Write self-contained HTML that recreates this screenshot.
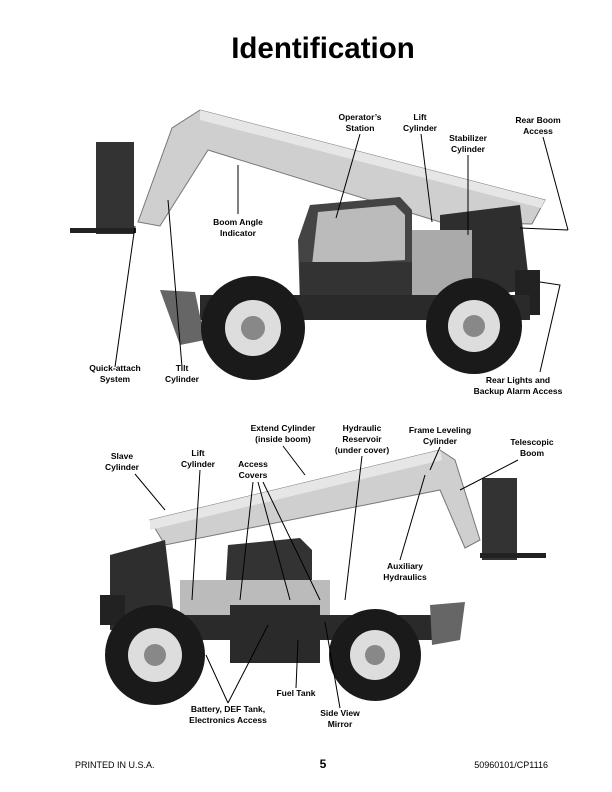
<!DOCTYPE html>
<html><head><meta charset="utf-8"><style>
html,body{margin:0;padding:0;background:#fff;}
svg{display:block}
text{font-family:"Liberation Sans",Arial,sans-serif;}
.l{font-size:8.5px;font-weight:bold;text-anchor:middle;fill:#000}
.ln{stroke:#000;stroke-width:1;fill:none}
</style></head><body>
<svg width="612" height="792" viewBox="0 0 612 792" xmlns="http://www.w3.org/2000/svg">
<text x="323" y="58" font-size="29.5" font-weight="bold" text-anchor="middle">Identification</text>

<!-- TOP MACHINE -->
<g>
 <rect x="96" y="142" width="38" height="92" fill="#333"/>
 <rect x="70" y="228" width="66" height="5" fill="#222"/>
 <!-- boom -->
 <polygon points="138,222 172,128 200,110 545,200 532,224 440,222 208,150 160,226" fill="#cfcfcf" stroke="#777"/>
 <polygon points="200,110 545,200 541,208 200,120" fill="#e6e6e6"/>
 <polygon points="440,215 520,205 530,290 440,300" fill="#2e2e2e"/>
 <rect x="515" y="270" width="25" height="45" fill="#222"/>
 <polygon points="310,205 400,197 412,210 412,300 300,305 298,240" fill="#444"/>
 <polygon points="318,212 395,205 405,215 405,260 312,265" fill="#bbb"/>
 <rect x="300" y="262" width="115" height="50" fill="#333"/>
 <rect x="412" y="230" width="60" height="70" fill="#aaa"/>
 <rect x="200" y="295" width="330" height="25" fill="#2a2a2a"/>
 <polygon points="160,290 195,292 205,340 180,345" fill="#666"/>
 <circle cx="253" cy="328" r="52" fill="#1a1a1a"/>
 <circle cx="253" cy="328" r="28" fill="#ddd"/>
 <circle cx="253" cy="328" r="12" fill="#888"/>
 <circle cx="474" cy="326" r="48" fill="#1a1a1a"/>
 <circle cx="474" cy="326" r="26" fill="#ddd"/>
 <circle cx="474" cy="326" r="11" fill="#888"/>
</g>

<text class="l" x="360" y="120">Operator’s</text><text class="l" x="360" y="131">Station</text>
<text class="l" x="420" y="120">Lift</text><text class="l" x="420" y="131">Cylinder</text>
<text class="l" x="468" y="141">Stabilizer</text><text class="l" x="468" y="152">Cylinder</text>
<text class="l" x="538" y="123">Rear Boom</text><text class="l" x="538" y="134">Access</text>
<text class="l" x="238" y="225">Boom Angle</text><text class="l" x="238" y="236">Indicator</text>
<text class="l" x="115" y="371">Quick-attach</text><text class="l" x="115" y="382">System</text>
<text class="l" x="182" y="371">Tilt</text><text class="l" x="182" y="382">Cylinder</text>
<text class="l" x="518" y="383">Rear Lights and</text><text class="l" x="518" y="394">Backup Alarm Access</text>
<path class="ln" d="M360 134 L336 218 M421 134 L432 222 M468 155 L468 235 M543 137 L568 230 M520 228 L568 230 M238 214 L238 165 M115 367 L135 226 M182 367 L168 200 M540 372 L560 285 L540 282"/>

<!-- BOTTOM MACHINE -->
<g>
 <rect x="482" y="478" width="35" height="82" fill="#333"/>
 <rect x="480" y="553" width="66" height="5" fill="#222"/>
 <polygon points="150,520 440,450 455,460 480,540 465,548 440,490 165,545" fill="#cfcfcf" stroke="#777"/>
 <polygon points="150,520 440,450 442,460 150,530" fill="#e6e6e6"/>
 <polygon points="110,555 165,540 175,625 110,630" fill="#2e2e2e"/>
 <rect x="100" y="595" width="25" height="30" fill="#222"/>
 <polygon points="228,545 300,538 312,550 312,590 225,595" fill="#333"/>
 <rect x="180" y="580" width="150" height="40" fill="#bbb"/>
 <rect x="230" y="605" width="90" height="58" fill="#2a2a2a"/>
 <rect x="140" y="615" width="320" height="25" fill="#2a2a2a"/>
 <polygon points="430,605 465,602 460,640 432,645" fill="#666"/>
 <circle cx="155" cy="655" r="50" fill="#1a1a1a"/>
 <circle cx="155" cy="655" r="27" fill="#ddd"/>
 <circle cx="155" cy="655" r="11" fill="#888"/>
 <circle cx="375" cy="655" r="46" fill="#1a1a1a"/>
 <circle cx="375" cy="655" r="25" fill="#ddd"/>
 <circle cx="375" cy="655" r="10" fill="#888"/>
</g>

<text class="l" x="283" y="431">Extend Cylinder</text><text class="l" x="283" y="442">(inside boom)</text>
<text class="l" x="362" y="431">Hydraulic</text><text class="l" x="362" y="442">Reservoir</text><text class="l" x="362" y="453">(under cover)</text>
<text class="l" x="440" y="433">Frame Leveling</text><text class="l" x="440" y="444">Cylinder</text>
<text class="l" x="532" y="445">Telescopic</text><text class="l" x="532" y="456">Boom</text>
<text class="l" x="122" y="459">Slave</text><text class="l" x="122" y="470">Cylinder</text>
<text class="l" x="198" y="456">Lift</text><text class="l" x="198" y="467">Cylinder</text>
<text class="l" x="253" y="467">Access</text><text class="l" x="253" y="478">Covers</text>
<text class="l" x="405" y="569">Auxiliary</text><text class="l" x="405" y="580">Hydraulics</text>
<text class="l" x="296" y="696">Fuel Tank</text>
<text class="l" x="228" y="712">Battery, DEF Tank,</text><text class="l" x="228" y="723">Electronics Access</text>
<text class="l" x="340" y="716">Side View</text><text class="l" x="340" y="727">Mirror</text>
<path class="ln" d="M283 446 L305 475 M362 456 L345 600 M440 447 L430 470 M518 460 L460 490 M135 474 L165 510 M200 470 L192 600 M253 482 L240 600 M258 482 L290 600 M263 482 L320 600 M400 560 L425 475 M296 688 L298 640 M228 703 L206 655 M228 703 L268 625 M340 708 L325 622"/>

<text x="75" y="768" font-size="9">PRINTED IN U.S.A.</text>
<text x="323" y="768" font-size="12" font-weight="bold" text-anchor="middle">5</text>
<text x="548" y="768" font-size="9" text-anchor="end">50960101/CP1116</text>
</svg>
</body></html>
